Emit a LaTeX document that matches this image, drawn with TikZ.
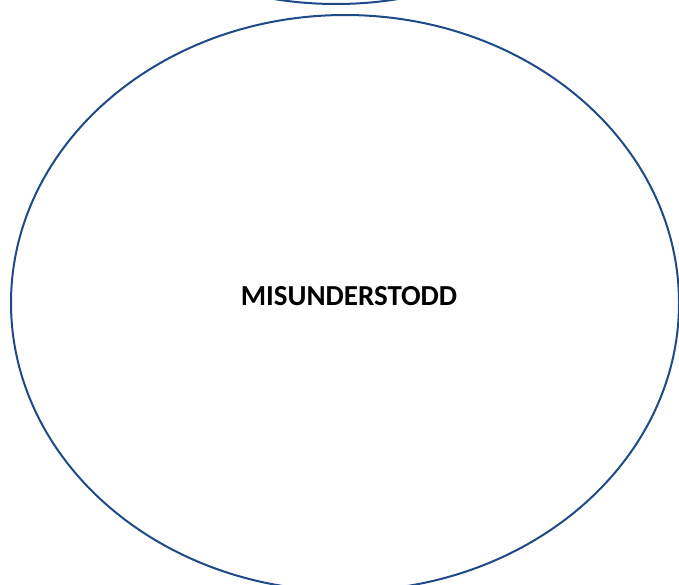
\documentclass[tikz,border=0pt]{standalone}
\usepackage{fontspec}
\setmainfont{Carlito}
\usepackage{tikz}
\usetikzlibrary{positioning}
\usetikzlibrary{shapes.geometric}
\definecolor{ramka}{RGB}{31,73,135}
\tikzset{
  owal/.style={draw=ramka, line width=2pt, ellipse, inner sep=0pt,
    minimum width=668pt, minimum height=576pt},
  napis/.style={font=\bfseries\fontsize{29}{34}\selectfont, inner sep=0pt}
}
\begin{document}
\begin{tikzpicture}[x=1pt,y=-1pt]
\useasboundingbox (0,0) rectangle (679,584);
\clip (0,0) rectangle (679,584);

%owal glowny
\node[owal] (mis) at (345,303) {};
\node[napis] (tekst) at ([xshift=4pt,yshift=7pt]mis.center) {MISUNDERSTODD};

%owal wyzej (widoczny tylko dol)
\node[owal] (gora) at (336,-284) {};

%end
\end{tikzpicture}
\end{document}
